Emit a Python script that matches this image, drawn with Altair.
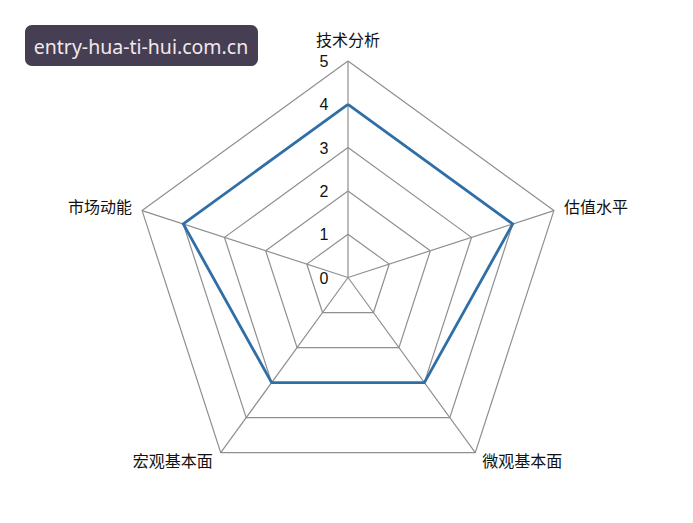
import altair as alt
import pandas as pd
import math

# ---- data ----
axes_names = ["技术分析", "估值水平", "微观基本面", "宏观基本面", "市场动能"]
scores = [4, 4, 3, 3, 4]
levels = [1, 2, 3, 4, 5]
tick_labels = ["0", "1", "2", "3", "4", "5"]
watermark = "entry-hua-ti-hui.com.cn"

N = len(axes_names)
RMAX = 5

def angle(i):
    return math.pi / 2 - 2 * math.pi * i / N

# data polygon
rows = []
for k in range(N + 1):
    i = k % N
    rows.append({"axis": axes_names[i], "v": scores[i], "a": angle(i), "o": k})
df_data = pd.DataFrame(rows)

# ring grid
ring_rows = []
for lv in levels:
    for k in range(N + 1):
        i = k % N
        ring_rows.append({"lv": lv, "a": angle(i), "o": k})
df_rings = pd.DataFrame(ring_rows)

# spokes
df_spokes = pd.DataFrame({"axis": axes_names, "a": [angle(i) for i in range(N)], "r": [RMAX] * N})

# tick labels
df_ticks = pd.DataFrame({"t": tick_labels, "v": [int(t) for t in tick_labels]})

# ---- layout ----
W, H = 677, 507
unit = 43.3
cx, cy = 340.0, 269.5
xdom = [-cx / unit, (W - cx) / unit]
ydom = [-(H - cy) / unit, cy / unit]
xs = alt.Scale(domain=xdom, nice=False, zero=False)
ys = alt.Scale(domain=ydom, nice=False, zero=False)

def X(f):
    return alt.X(f, type="quantitative", scale=xs, axis=None)

def Y(f):
    return alt.Y(f, type="quantitative", scale=ys, axis=None)

grid_color = "#8f8f8f"

rings = alt.Chart(df_rings).transform_calculate(
    x="datum.lv * cos(datum.a)", y="datum.lv * sin(datum.a)"
).mark_line(color=grid_color, strokeWidth=1.2).encode(
    x=X("x"), y=Y("y"), detail="lv:N", order="o:Q"
)

spokes = alt.Chart(df_spokes).transform_calculate(
    x0="0", y0="0", x1="datum.r * cos(datum.a)", y1="datum.r * sin(datum.a)"
).mark_rule(color=grid_color, strokeWidth=1.2).encode(
    x=X("x0"), y=Y("y0"), x2="x1:Q", y2="y1:Q"
)

line = alt.Chart(df_data).transform_calculate(
    x="datum.v * cos(datum.a)", y="datum.v * sin(datum.a)"
).mark_line(color="#2f6ea6", strokeWidth=2.8).encode(
    x=X("x"), y=Y("y"), order="o:Q"
)

ticks = alt.Chart(df_ticks).transform_calculate(
    x="0", y="datum.v"
).mark_text(font="Liberation Sans", fontSize=16, color="#111111",
            align="center", baseline="middle", dx=-24, dy=1).encode(
    x=X("x"), y=Y("y"), text="t:N"
)

# axis labels, each with its own placement style
label_style = [
    dict(align="center", dx=0, dy=-20),
    dict(align="left", dx=10, dy=-3),
    dict(align="left", dx=7, dy=9),
    dict(align="right", dx=-8, dy=9),
    dict(align="right", dx=-10, dy=-3),
]
label_layers = []
for i, name in enumerate(axes_names):
    st = label_style[i]
    d = pd.DataFrame({"axis": [name], "a": [angle(i)], "r": [RMAX]})
    label_layers.append(
        alt.Chart(d).transform_calculate(
            x="datum.r * cos(datum.a)", y="datum.r * sin(datum.a)"
        ).mark_text(font="Noto Sans CJK SC", fontSize=16, color="#111111",
                    baseline="middle", align=st["align"], dx=st["dx"], dy=st["dy"]).encode(
            x=X("x"), y=Y("y"), text="axis:N"
        )
    )

wm_df = pd.DataFrame({"t": [watermark]})
wm_box = alt.Chart(wm_df).mark_rect(color="#463e52", cornerRadius=7).encode(
    x=alt.value(17), x2=alt.value(250), y=alt.value(17), y2=alt.value(58)
)
wm_text = alt.Chart(wm_df).mark_text(font="Noto Sans", fontSize=19.5, color="#f2e8ec",
                                     align="center", baseline="alphabetic").encode(
    x=alt.value(133), y=alt.value(45.5), text="t:N"
)

chart = alt.layer(
    rings, spokes, line, ticks, *label_layers, wm_box, wm_text
).properties(
    width=W, height=H, padding=0, autosize=alt.AutoSizeParams(type="none"),
    background="white"
).configure_view(stroke=None)

chart.save("out.html", embed_options={"renderer": "svg", "actions": False})
